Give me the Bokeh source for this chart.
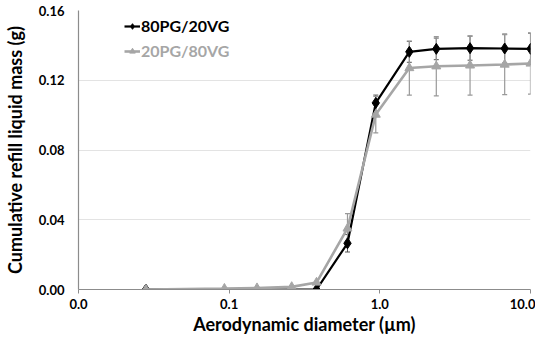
from bokeh.plotting import figure
from bokeh.models import (ColumnDataSource, Whisker, TeeHead, Legend, LegendItem,
                          FixedTicker, CustomJSTickFormatter, Range1d)
from bokeh.embed import file_html
from bokeh.resources import INLINE

# Data
d_black = [0.028, 0.38, 0.61, 0.94, 1.57, 2.37, 3.97, 6.74, 10.0]
m_black = [0.0, 0.0, 0.0265, 0.107, 0.1363, 0.138, 0.1384, 0.1382, 0.138]
e_black = [0.0, 0.0, 0.005, 0.0045, 0.006, 0.0062, 0.0069, 0.0083, 0.0090]

d_gray = [0.028, 0.093, 0.153, 0.26, 0.38, 0.61, 0.94, 1.57, 2.37, 3.97, 6.74, 10.0]
m_gray = [0.0, 0.0005, 0.0008, 0.0015, 0.004, 0.035, 0.1003, 0.127, 0.128, 0.1285, 0.129, 0.1296]
e_gray = [0.0, 0.0, 0.0, 0.0, 0.0, 0.0085, 0.0105, 0.0155, 0.017, 0.017, 0.0172, 0.0176]

y_ticks = [0.0, 0.04, 0.08, 0.12, 0.16]
x_ticks = [0.01, 0.1, 1.0, 10.0]

FONT = "Lato"
BLACK = "#000000"
GRAY = "#a6a6a6"

p = figure(width=535, height=337, x_axis_type="log", output_backend="svg",
           toolbar_location=None, x_range=Range1d(0.01, 10.0), y_range=Range1d(0.0, 0.16),
           min_border_left=74, min_border_right=5, min_border_top=10, min_border_bottom=46)
p.outline_line_color = None
p.background_fill_color = "white"

src_b = ColumnDataSource(dict(x=d_black, y=m_black,
                              lo=[a - b for a, b in zip(m_black, e_black)],
                              hi=[a + b for a, b in zip(m_black, e_black)]))
src_g = ColumnDataSource(dict(x=d_gray, y=m_gray,
                              lo=[a - b for a, b in zip(m_gray, e_gray)],
                              hi=[a + b for a, b in zip(m_gray, e_gray)]))

wb = Whisker(source=src_b, base="x", upper="hi", lower="lo", line_color="#555555", line_width=1,
             upper_head=TeeHead(size=5, line_color="#555555", line_width=1),
             lower_head=TeeHead(size=5, line_color="#555555", line_width=1))
wg = Whisker(source=src_g, base="x", upper="hi", lower="lo", line_color="#999999", line_width=1.2,
             upper_head=TeeHead(size=5, line_color="#999999", line_width=1.2),
             lower_head=TeeHead(size=5, line_color="#999999", line_width=1.2))
p.add_layout(wb)

lb = p.line("x", "y", source=src_b, line_color=BLACK, line_width=2.2)
sb = p.scatter("x", "y", source=src_b, marker="diamond", size=11, color=BLACK)
p.add_layout(wg)
lg = p.line("x", "y", source=src_g, line_color=GRAY, line_width=2.6)
sg = p.scatter("x", "y", source=src_g, marker="triangle", size=9, color=GRAY)

# axes
p.xaxis.ticker = FixedTicker(ticks=x_ticks, minor_ticks=[])
p.xaxis.formatter = CustomJSTickFormatter(code="return tick < 0.05 ? '0.0' : tick.toFixed(1);")
p.yaxis.ticker = FixedTicker(ticks=y_ticks, minor_ticks=[])
p.yaxis.formatter = CustomJSTickFormatter(code="return tick.toFixed(2);")

for ax in (p.xaxis, p.yaxis):
    ax.axis_line_color = "#8c8c8c"
    ax.axis_line_width = 1.2
    ax.major_label_text_font = FONT
    ax.major_label_text_font_style = "bold"
    ax.major_label_text_font_size = "13px"
    ax.major_label_text_color = "#000000"
    ax.axis_label_text_font = FONT
    ax.axis_label_text_font_style = "bold"
    ax.axis_label_text_color = "#000000"
    ax.minor_tick_line_color = None

p.xaxis.major_tick_line_color = "#8c8c8c"
p.xaxis.major_tick_in = 0
p.xaxis.major_tick_out = 4
p.xaxis.major_label_standoff = 5
p.xaxis.axis_label = "Aerodynamic diameter (µm)"
p.xaxis.axis_label_standoff = 1
p.xaxis.axis_label_text_font_size = "18px"

p.yaxis.major_tick_line_color = None
p.yaxis.major_tick_in = 0
p.yaxis.major_tick_out = 0
p.yaxis.major_label_standoff = 14
p.yaxis.axis_label = "Cumulative refill liquid mass (g)"
p.yaxis.axis_label_standoff = 10
p.yaxis.axis_label_text_font_size = "18px"

p.xgrid.grid_line_color = None
p.ygrid.grid_line_color = "#e3e3e3"
p.ygrid.grid_line_width = 1

def make_legend(item, color, loc):
    lgd = Legend(items=[item], location=loc, border_line_color=None,
                 background_fill_alpha=0, label_text_font=FONT,
                 label_text_font_style="bold", label_text_font_size="16px",
                 label_text_color=color, glyph_width=16, glyph_height=14,
                 padding=0, margin=0, label_standoff=1)
    p.add_layout(lgd)

make_legend(LegendItem(label="80PG/20VG", renderers=[lb, sb]), BLACK, (46, 254))
make_legend(LegendItem(label="20PG/80VG", renderers=[lg, sg]), GRAY, (46, 229))

open("out.html", "w").write(file_html(p, INLINE))
